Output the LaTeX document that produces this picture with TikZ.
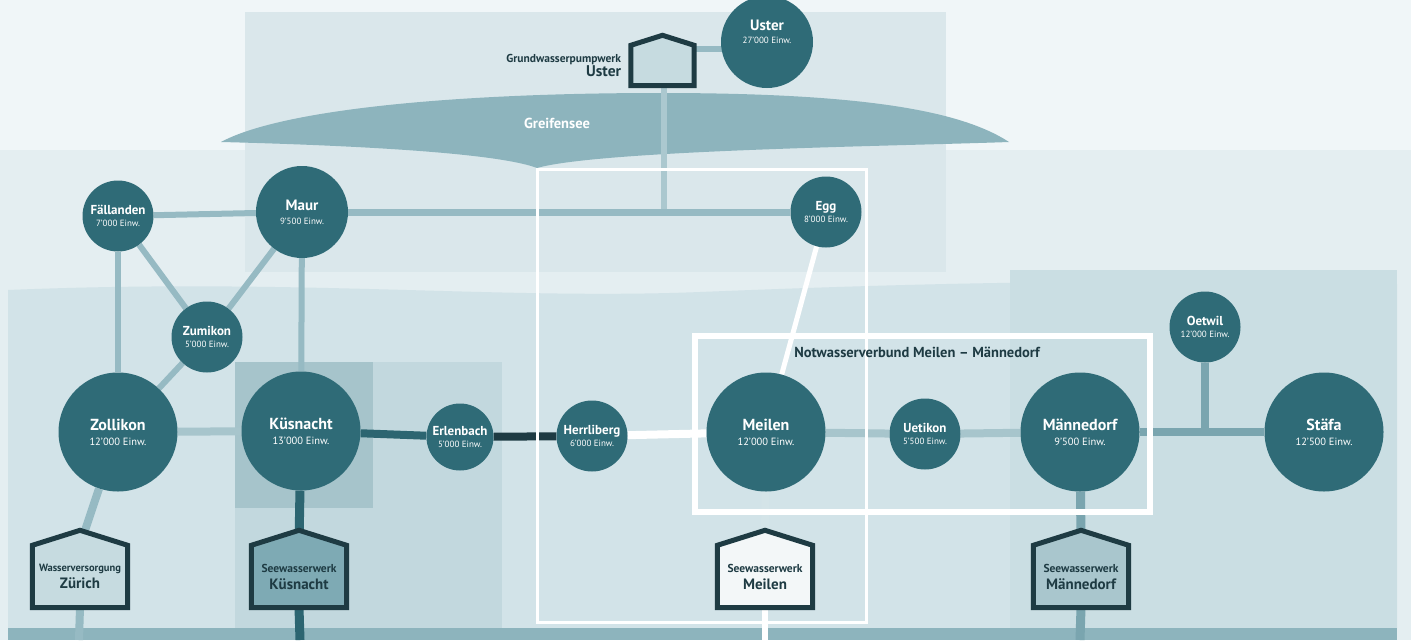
\documentclass[tikz,border=0pt]{standalone}
\usepackage{fontspec}
\setmainfont{PT Sans}
\usepackage{xcolor}
\usepackage{tikz}
\usetikzlibrary{positioning}

\definecolor{towncol}{HTML}{2F6B77}
\definecolor{darkline}{HTML}{1E3B43}
\definecolor{lakecol}{HTML}{8DB4BD}
\definecolor{bgbase}{HTML}{E4EEF1}
\definecolor{bgtop}{HTML}{F0F6F8}
\definecolor{lakezone}{HTML}{DAE7EB}
\definecolor{midband}{HTML}{D2E3E8}
\definecolor{rightzone}{HTML}{CADEE3}
\definecolor{kuslight}{HTML}{C2D8DE}
\definecolor{kusdark}{HTML}{A6C4CB}
\definecolor{bandcol}{HTML}{8DB4BD}
\definecolor{lightln}{HTML}{96BAC3}
\definecolor{paleln}{HTML}{A7C5CC}
\definecolor{midln}{HTML}{7AA5AF}
\definecolor{tealln}{HTML}{2C6571}
\definecolor{zhfill}{HTML}{C6DBE0}
\definecolor{ksfill}{HTML}{7EAAB4}
\definecolor{mefill}{HTML}{F3F7F8}
\definecolor{mdfill}{HTML}{A9C6CD}

\newcommand{\popsize}{\mdseries\fontsize{9}{10}\selectfont}
\newcommand{\popbig}{\mdseries\fontsize{10.5}{11}\selectfont}

\pgfdeclarelayer{back}
\pgfdeclarelayer{mid}
\pgfsetlayers{back,mid,main}

\begin{document}
\begin{tikzpicture}[x=1pt, y=1pt, inner sep=0pt,
  town/.style={circle, fill=towncol, text=white, align=center, font=\bfseries\fontsize{13}{14}\selectfont},
  smalltown/.style={town, minimum size=71pt},
  midtown/.style={town, minimum size=92pt, font=\bfseries\fontsize{15}{16}\selectfont},
  bigtown/.style={town, minimum size=119pt, font=\bfseries\fontsize{16}{17}\selectfont},
  plantbody/.style={minimum width=95pt, minimum height=62pt, align=center, text=darkline, font=\bfseries\fontsize{15}{16}\selectfont},
  house/.style={draw=darkline, line width=5pt, line join=miter},
  lnk/.style={line width=6pt},
  lakeln/.style={line width=8pt},
  frame/.style={draw=white}]

\useasboundingbox (0,0) rectangle (1411,-640);

% towns
\node (ust) [midtown, at={(767,-42)}] {Uster\\[-3pt]{\popsize 27'000 Einw.}\\[4pt]};
\node (fal) [smalltown, at={(118,-216)}] {Fällanden\\[-2pt]{\popsize 7'000 Einw.}};
\node (maur) [midtown, at={(302,-212)}] {Maur\\[-2pt]{\popsize 9'500 Einw.}};
\node (egg) [smalltown, at={(826,-212)}] {Egg\\[-2pt]{\popsize 8'000 Einw.}};
\node (zum) [smalltown, at={(207,-337)}] {Zumikon\\[-2pt]{\popsize 5'000 Einw.}};
\node (zol) [bigtown, at={(118,-432)}] {Zollikon\\[-2pt]{\popbig 12'000 Einw.}};
\node (kus) [bigtown, at={(301,-431)}] {Küsnacht\\[-2pt]{\popbig 13'000 Einw.}};
\node (erl) [smalltown, minimum size=67pt, at={(460,-437)}] {Erlenbach\\[-2pt]{\popsize 5'000 Einw.}};
\node (her) [smalltown, at={(592,-436)}] {Herrliberg\\[-2pt]{\popsize 6'000 Einw.}};
\node (mei) [bigtown, at={(766,-432)}] {Meilen\\[-2pt]{\popbig 12'000 Einw.}};
\node (uet) [smalltown, at={(925,-434)}] {Uetikon\\[-2pt]{\popsize 5'500 Einw.}};
\node (man) [bigtown, at={(1080,-432)}] {Männedorf\\[-2pt]{\popbig 9'500 Einw.}};
\node (oet) [smalltown, at={(1205,-327)}] {Oetwil\\[-2pt]{\popsize 12'000 Einw.}};
\node (sta) [bigtown, at={(1324,-432)}] {Stäfa\\[-2pt]{\popbig 12'500 Einw.}};

% water works
\node (usp) [plantbody, minimum width=63pt, minimum height=40pt, at={(662.5,-65.5)}] {};
\node (uspl) [left=9.5pt of usp, align=right, text=darkline, font=\bfseries\fontsize{11.5}{12}\selectfont] {Grundwasserpumpwerk\\[-1pt]{\fontsize{15.5}{16}\selectfont Uster}};
\node (hzh) [plantbody, at={(80,-576.5)}] {{\fontsize{10.5}{11}\selectfont Wasserversorgung}\\[1pt]Zürich};
\node (hks) [plantbody, at={(299,-576.5)}] {{\fontsize{11.5}{12}\selectfont Seewasserwerk}\\[1pt]Küsnacht};
\node (hme) [plantbody, at={(765,-576.5)}] {{\fontsize{11.5}{12}\selectfont Seewasserwerk}\\[1pt]Meilen};
\node (hmd) [plantbody, at={(1081,-576.5)}] {{\fontsize{11.5}{12}\selectfont Seewasserwerk}\\[1pt]Männedorf};

\node (gsee) [text=white, font=\bfseries\fontsize{14.5}{15}\selectfont, at={(557,-123)}] {Greifensee};
\node (nwl) [text=darkline, font=\bfseries\fontsize{14.5}{15}\selectfont, at={(917,-352)}] {Notwasserverbund Meilen -- Männedorf};

\coordinate (gj) at (664,-212);
\coordinate (oj) at (1205,-433);
\coordinate (uspr) at (696,-49);
\coordinate (zhb) at (79,-640);
\coordinate (ksb) at (300,-640);
\coordinate (meb) at (765,-640);
\coordinate (mdb) at (1080,-640);

\begin{pgfonlayer}{mid}
\path [house, fill=zhfill] (usp.south west) -- (usp.north west) -- ([yshift=10pt]usp.north) -- (usp.north east) -- (usp.south east) -- cycle;
\path [house, fill=zhfill] (hzh.south west) -- (hzh.north west) -- ([yshift=15pt]hzh.north) -- (hzh.north east) -- (hzh.south east) -- cycle;
\path [house, fill=ksfill] (hks.south west) -- (hks.north west) -- ([yshift=15pt]hks.north) -- (hks.north east) -- (hks.south east) -- cycle;
\path [house, fill=mefill] (hme.south west) -- (hme.north west) -- ([yshift=15pt]hme.north) -- (hme.north east) -- (hme.south east) -- cycle;
\path [house, fill=mdfill] (hmd.south west) -- (hmd.north west) -- ([yshift=15pt]hmd.north) -- (hmd.north east) -- (hmd.south east) -- cycle;
\end{pgfonlayer}

\begin{pgfonlayer}{back}
% landscape
\fill [bgbase] (0,0) rectangle (1411,-640);
\fill [bgtop] (0,0) rectangle (1411,-150);
\fill [lakezone] (245,-12) rectangle (946,-272);
\fill [midband] (8,-290) .. controls (300,-278) and (500,-300) .. (700,-292) .. controls (900,-284) and (1100,-278) .. (1397,-284) -- (1397,-628) -- (8,-628) -- cycle;
\fill [rightzone] (1010,-270) rectangle (1397,-628);
\fill [kuslight] (235,-362) rectangle (502,-628);
\fill [kusdark] (235,-362) rectangle (373,-508);
\fill [bandcol] (8,-628) rectangle (1397,-640);
\fill [lakecol] (221,-142) .. controls (280,-110) and (450,-93) .. (660,-93) .. controls (860,-93) and (960,-110) .. (1009,-142) .. controls (900,-146) and (600,-150) .. (537,-168) .. controls (490,-150) and (300,-144) .. (221,-142) -- cycle;

% pipes
\path [lnk, draw=lightln] (uspr) -- (uspr -| ust);
\path [lnk, draw=lightln!80!white] (gj |- usp.south) -- (gj);
\path [lnk, draw=lightln] (fal) -- (maur);
\path [lnk, draw=lightln, line width=7pt] (maur) -- (egg);
\path [lnk, draw=lightln] (fal) -- (zum);
\path [lnk, draw=lightln] (maur) -- (zum);
\path [lnk, draw=lightln] (zum) -- (zol);
\path [lnk, draw=lightln] (fal) -- (zol);
\path [lnk, draw=lightln] (maur) -- (kus);
\path [lakeln, draw=paleln] (zol) -- (kus);
\path [lakeln, draw=tealln] (kus) -- (erl);
\path [lakeln, draw=darkline] (erl) -- (her);
\path [lakeln, draw=white] (her) -- (mei);
\path [lakeln, draw=paleln] (mei) -- (uet);
\path [lakeln, draw=paleln] (uet) -- (man);
\path [lakeln, draw=midln] (man) -- (sta);
\path [lakeln, draw=midln] (oet) -- (oj);
\path [lnk, draw=white, line width=5pt] (egg) -- (mei);
\path [lakeln, draw=lightln] (zol) -- (hzh.north);
\path [lakeln, draw=lightln] (hzh.south) -- (zhb);
\path [lakeln, draw=tealln, line width=9pt] (kus) -- (hks.north);
\path [lakeln, draw=tealln, line width=9pt] (hks.south) -- (ksb);
\path [lakeln, draw=kuslight!70!white] (mei) -- (hme.north);
\path [lakeln, draw=white, line width=6pt] (hme.south) -- (meb);
\path [lakeln, draw=midln, line width=9pt] (man) -- (hmd.north);
\path [lakeln, draw=midln, line width=9pt] (hmd.south) -- (mdb);

% frames
\draw [frame, line width=3pt] (537,-169) rectangle (866,-622);
\draw [frame, line width=5.5pt] (695,-336) rectangle (1150,-512);
\end{pgfonlayer}
\end{tikzpicture}
\end{document}
